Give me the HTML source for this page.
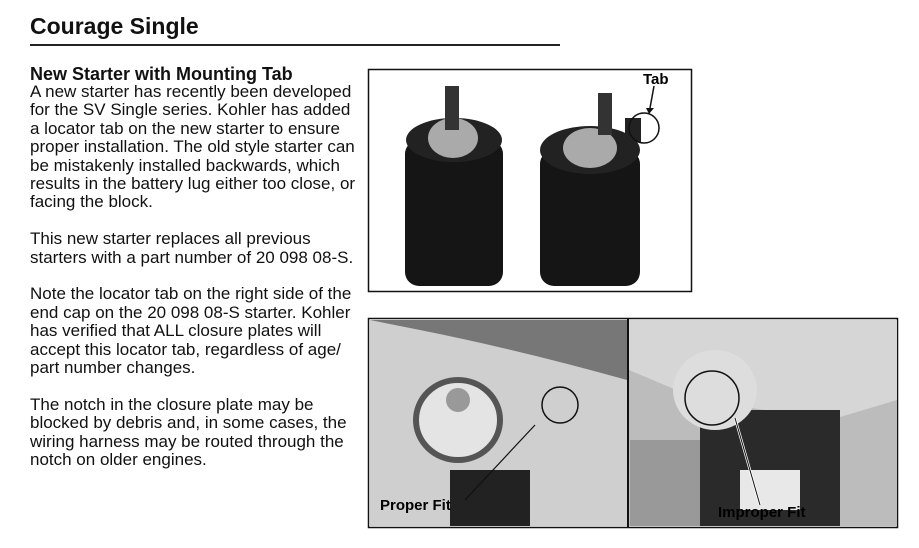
<!DOCTYPE html>
<html><head><meta charset="utf-8"><style>
html,body{margin:0;padding:0;background:#fff;width:919px;height:548px;overflow:hidden;font-family:"Liberation Sans",Arial,sans-serif;color:#111}
.t{position:absolute;white-space:pre;}
#title{left:30px;top:13px;font-size:23px;font-weight:bold}
#rule{position:absolute;left:30px;top:44px;width:530px;height:2px;background:#222}
#h{left:30px;top:64px;font-size:18px;font-weight:bold}
#b{left:30px;top:83px;font-size:17px;line-height:18.4px}
</style></head><body>
<div class="t" id="title">Courage Single</div>
<div id="rule"></div>
<div class="t" id="h">New Starter with Mounting Tab</div>
<div class="t" id="b">A new starter has recently been developed
for the SV Single series. Kohler has added
a locator tab on the new starter to ensure
proper installation. The old style starter can
be mistakenly installed backwards, which
results in the battery lug either too close, or
facing the block.

This new starter replaces all previous
starters with a part number of 20 098 08-S.

Note the locator tab on the right side of the
end cap on the 20 098 08-S starter. Kohler
has verified that ALL closure plates will
accept this locator tab, regardless of age/
part number changes.

The notch in the closure plate may be
blocked by debris and, in some cases, the
wiring harness may be routed through the
notch on older engines.</div>
<svg style="position:absolute;left:0;top:0" width="919" height="548">
<rect x="368.5" y="69.5" width="323" height="222" fill="#fff" stroke="#111" stroke-width="1.5"/>
<rect x="405" y="140" width="98" height="146" rx="14" fill="#151515"/>
<ellipse cx="454" cy="140" rx="48" ry="22" fill="#222"/>
<ellipse cx="453" cy="138" rx="25" ry="20" fill="#aaa"/>
<rect x="445" y="86" width="14" height="44" fill="#333"/>
<rect x="540" y="150" width="100" height="136" rx="14" fill="#151515"/>
<ellipse cx="590" cy="150" rx="50" ry="24" fill="#222"/>
<ellipse cx="590" cy="148" rx="27" ry="20" fill="#aaa"/>
<rect x="598" y="93" width="14" height="42" fill="#333"/>
<rect x="625" y="118" width="16" height="24" fill="#222"/>
<circle cx="644" cy="128" r="15" fill="none" stroke="#111" stroke-width="1.5"/>
<line x1="654" y1="86" x2="650" y2="108" stroke="#111" stroke-width="1.5"/>
<polygon points="646,108 654,108 649,114" fill="#111"/>
<text x="643" y="84" font-size="15" font-weight="bold" font-family="Liberation Sans,sans-serif">Tab</text>
<rect x="368.5" y="318.5" width="529" height="209" fill="#fff" stroke="#111" stroke-width="1.5"/>
<rect x="370" y="320" width="257" height="206" fill="#cfcfcf"/>
<path d="M370 320 L627 320 L627 380 Q520 350 420 330 Z" fill="#777"/>
<rect x="450" y="470" width="80" height="56" fill="#222"/>
<ellipse cx="458" cy="420" rx="42" ry="40" fill="#e4e4e4" stroke="#555" stroke-width="6"/>
<circle cx="458" cy="400" r="12" fill="#999"/>
<rect x="629" y="320" width="268" height="206" fill="#bcbcbc"/>
<path d="M629 320 L897 320 L897 400 L830 420 L700 400 L629 370 Z" fill="#d6d6d6"/>
<rect x="700" y="410" width="140" height="116" fill="#2a2a2a"/>
<rect x="630" y="440" width="70" height="86" fill="#999"/>
<rect x="740" y="470" width="60" height="40" fill="#e8e8e8"/>
<ellipse cx="715" cy="390" rx="42" ry="40" fill="#ddd"/>
<line x1="628" y1="319" x2="628" y2="527" stroke="#111" stroke-width="2"/>
<circle cx="560" cy="405" r="18" fill="none" stroke="#111" stroke-width="1.5"/>
<circle cx="712" cy="398" r="27" fill="none" stroke="#111" stroke-width="1.5"/>
<line x1="465" y1="500" x2="535" y2="425" stroke="#111" stroke-width="1.2"/>
<line x1="760" y1="505" x2="735" y2="418" stroke="#fff" stroke-width="2.5"/>
<line x1="760" y1="505" x2="735" y2="418" stroke="#111" stroke-width="1"/>
<text x="380" y="510" font-size="15" font-weight="bold" font-family="Liberation Sans,sans-serif">Proper Fit</text>
<text x="718" y="517" font-size="15" font-weight="bold" font-family="Liberation Sans,sans-serif">Improper Fit</text>
</svg>
</body></html>
